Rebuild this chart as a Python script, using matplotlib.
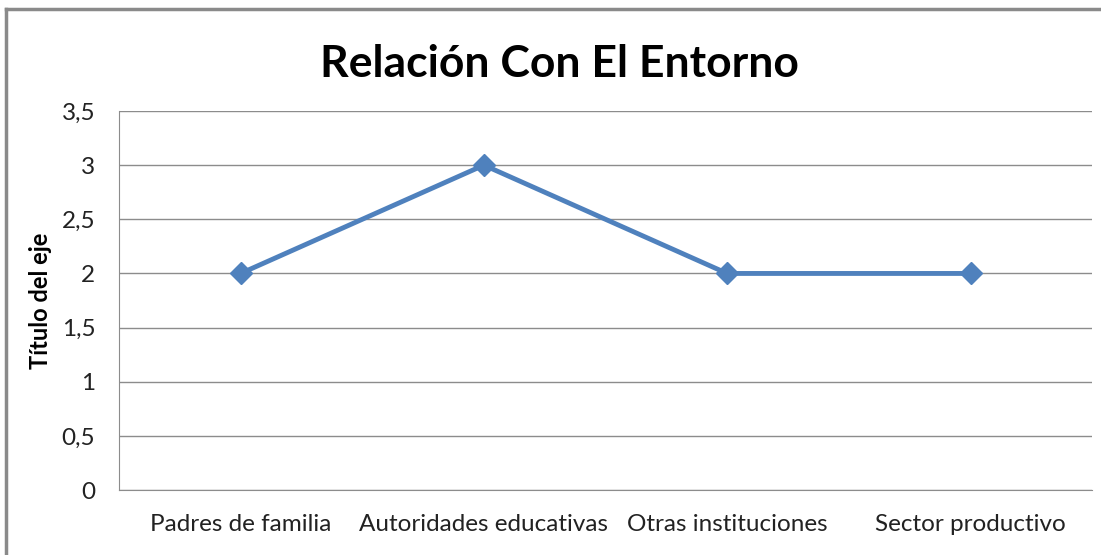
import numpy as np
import matplotlib.pyplot as plt
from matplotlib.lines import Line2D

categories = ["Padres de familia", "Autoridades educativas", "Otras instituciones", "Sector productivo"]
values = [2, 3, 2, 2]
yticks = [0, 0.5, 1, 1.5, 2, 2.5, 3, 3.5]
ytick_labels = ["0", "0,5", "1", "1,5", "2", "2,5", "3", "3,5"]

plt.rcParams['font.family'] = ['Lato', 'DejaVu Sans']

fig = plt.figure(figsize=(11.01, 5.55), dpi=100)
ax = fig.add_axes([0.108, 0.117, 0.884, 0.683])

x = np.arange(len(categories))
ax.plot(x, values, color='#4F81BD', linewidth=3.5, marker='D', markersize=11,
        markerfacecolor='#4F81BD', markeredgecolor='#4F81BD', zorder=3)

ax.set_xlim(-0.5, len(categories) - 0.5)
ax.set_ylim(0, 3.5)
ax.set_yticks(yticks)
ax.set_yticklabels(ytick_labels, fontsize=17.5, color='#222222')
ax.set_xticks(x)
ax.set_xticklabels(categories, fontsize=17.5, color='#222222')
ax.tick_params(axis='y', length=0, pad=17)
ax.tick_params(axis='x', length=0, pad=17)
ax.grid(axis='y', color='#8c8c8c', linewidth=1)
ax.set_axisbelow(True)
for s in ['top', 'right']:
    ax.spines[s].set_visible(False)
for s in ['left', 'bottom']:
    ax.spines[s].set_color('#8c8c8c')

ax.set_ylabel('Título del eje', fontsize=17, fontweight='bold', labelpad=7)
fig.text(0.508, 0.885, 'Relación Con El Entorno', ha='center', va='center',
         fontsize=32, fontweight='bold', color='black')

# chart frame (left and top edges visible)
frame = dict(color='#8a8a8a', linewidth=2.5, transform=fig.transFigure)
fig.add_artist(Line2D([0.005, 0.005], [0, 0.984], **frame))
fig.add_artist(Line2D([0.005, 1.0], [0.984, 0.984], **frame))

fig.savefig('out.png', dpi=100)
